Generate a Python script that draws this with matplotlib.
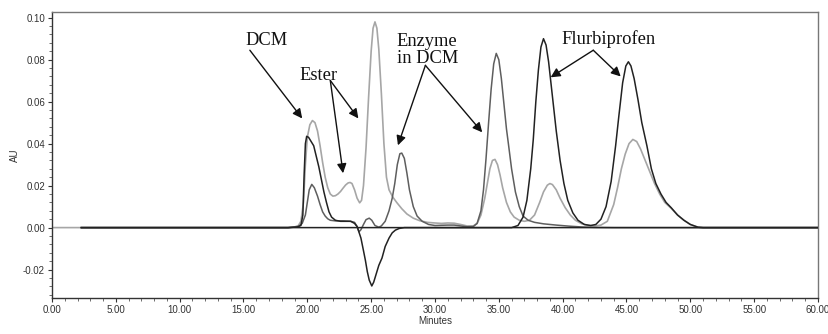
import matplotlib
matplotlib.use("Agg")
import matplotlib.pyplot as plt
from matplotlib.ticker import MultipleLocator, FormatStrFormatter

plt.rcParams['axes.unicode_minus'] = False

# ---- data ----
# Trace A: light grey (reaction mixture)
a_t = [0, 18.5, 19.0, 19.3, 19.5, 19.7, 19.85, 20.0, 20.2, 20.4, 20.6, 20.8, 21.0, 21.2, 21.4,
       21.6, 21.8, 22.0, 22.2, 22.4, 22.6, 22.8, 23.0, 23.2, 23.35, 23.5, 23.7, 23.9, 24.1, 24.25,
       24.4, 24.6, 24.8, 25.0, 25.15, 25.3, 25.45, 25.6, 25.8, 26.0, 26.2, 26.4, 26.7, 27.0, 27.4,
       27.8, 28.3, 28.8, 29.4, 30.0, 30.5, 31.0, 31.5, 32.0, 32.5, 33.0, 33.3, 33.6, 33.9, 34.1,
       34.3, 34.5, 34.7, 34.9, 35.1, 35.3, 35.6, 35.9, 36.2, 36.6, 37.0, 37.4, 37.8, 38.2, 38.5,
       38.8, 39.0, 39.2, 39.5, 39.8, 40.2, 40.6, 41.0, 41.5, 42.0, 42.5, 43.0, 43.5, 44.0, 44.3,
       44.6, 44.9, 45.2, 45.5, 45.8, 46.1, 46.4, 46.8, 47.2, 47.6, 48.0, 48.5, 49.0, 49.5, 50.0,
       50.6, 51.0, 60.0]
a_y = [0, 0, 0.0003, 0.001, 0.003, 0.012, 0.030, 0.043, 0.049, 0.051, 0.050, 0.046, 0.039, 0.031, 0.024,
       0.019, 0.016, 0.015, 0.0152, 0.016, 0.0172, 0.0188, 0.0203, 0.0213, 0.0215, 0.021, 0.018, 0.014, 0.0118, 0.013,
       0.020, 0.038, 0.062, 0.084, 0.095, 0.098, 0.095, 0.085, 0.064, 0.040, 0.024, 0.018, 0.0145, 0.012, 0.009,
       0.0065, 0.0045, 0.0033, 0.0025, 0.0022, 0.0020, 0.0022, 0.0021, 0.0015, 0.0008, 0.0008, 0.002, 0.006, 0.014, 0.021,
       0.028, 0.032, 0.0325, 0.030, 0.025, 0.019, 0.012, 0.0075, 0.005, 0.0035, 0.003, 0.0035, 0.006, 0.012, 0.017,
       0.0202, 0.021, 0.0205, 0.018, 0.014, 0.0095, 0.006, 0.0035, 0.0018, 0.001, 0.0008, 0.0012, 0.003, 0.011, 0.019,
       0.028, 0.035, 0.040, 0.042, 0.041, 0.0375, 0.033, 0.027, 0.021, 0.016, 0.012, 0.0092, 0.006, 0.0035, 0.0015,
       0.0002, 0, 0]

# Trace B: dark (DCM, negative dip)
b_t = [2.3, 18.5, 19.2, 19.5, 19.65, 19.75, 19.85, 19.95, 20.1, 20.3, 20.5, 20.7, 20.9, 21.1, 21.3,
       21.5, 21.7, 21.9, 22.2, 22.6, 23.0, 23.4, 23.7, 23.9, 24.0, 24.2, 24.4, 24.55, 24.7, 24.85,
       25.05, 25.2, 25.4, 25.6, 25.85, 26.1, 26.4, 26.65, 26.9, 27.2, 27.6, 60.0]
b_y = [0, 0, 0.0003, 0.001, 0.006, 0.025, 0.040, 0.0435, 0.043, 0.041, 0.039, 0.034, 0.029, 0.023, 0.017,
       0.012, 0.0075, 0.005, 0.0035, 0.003, 0.003, 0.003, 0.002, 0.0005, -0.0013, -0.005, -0.011, -0.0156, -0.021, -0.025,
       -0.0278, -0.026, -0.022, -0.018, -0.0145, -0.009, -0.005, -0.0025, -0.0012, -0.0004, 0, 0]

# Trace C: medium grey (enzyme in DCM)
c_t = [2.3, 18.5, 19.3, 19.6, 19.85, 20.0, 20.15, 20.35, 20.55, 20.8, 21.0, 21.2, 21.4, 21.6, 21.8,
       22.2, 22.8, 23.4, 23.7, 23.9, 24.05, 24.2, 24.4, 24.6, 24.85, 25.05, 25.3, 25.6, 25.8, 26.1,
       26.4, 26.65, 26.85, 27.05, 27.25, 27.4, 27.6, 27.8, 28.0, 28.3, 28.6, 29.0, 29.5, 30.0, 31.0,
       31.5, 32.0, 32.5, 33.0, 33.3, 33.6, 33.8, 34.0, 34.2, 34.4, 34.6, 34.8, 35.0, 35.2, 35.4,
       35.6, 35.75, 36.0, 36.3, 36.6, 36.9, 37.3, 37.8, 38.5, 39.5, 40.5, 41.5, 42.5, 44.0, 60.0]
c_y = [0, 0, 0.0005, 0.002, 0.006, 0.012, 0.018, 0.0206, 0.019, 0.015, 0.011, 0.0075, 0.0055, 0.0042, 0.0035,
       0.0032, 0.0032, 0.003, 0.0025, 0.0005, -0.002, -0.001, 0.0015, 0.0038, 0.0045, 0.0035, 0.001, 0.0002, 0.0008, 0.003,
       0.008, 0.014, 0.021, 0.030, 0.0352, 0.0355, 0.033, 0.026, 0.018, 0.010, 0.0055, 0.003, 0.0015, 0.001, 0.0012,
       0.0012, 0.0008, 0.0004, 0.0005, 0.002, 0.008, 0.018, 0.033, 0.050, 0.066, 0.078, 0.083, 0.080, 0.071, 0.059,
       0.047, 0.040, 0.028, 0.017, 0.010, 0.0055, 0.0035, 0.0025, 0.0018, 0.0012, 0.0007, 0.0003, 0.0001, 0, 0]

# Trace D: dark (flurbiprofen enantiomers)
d_t = [2.3, 36.0, 36.5, 36.9, 37.2, 37.5, 37.7, 37.9, 38.1, 38.3, 38.5, 38.7, 38.9, 39.1, 39.3,
       39.5, 39.8, 40.1, 40.4, 40.8, 41.2, 41.7, 42.2, 42.6, 43.0, 43.4, 43.8, 44.15, 44.4, 44.7,
       44.95, 45.15, 45.35, 45.6, 45.9, 46.2, 46.6, 46.95, 47.3, 47.7, 48.1, 48.5, 49.0, 49.5, 50.0,
       50.6, 51.0, 60.0]
d_y = [0, 0, 0.001, 0.005, 0.013, 0.028, 0.042, 0.060, 0.075, 0.086, 0.090, 0.087, 0.079, 0.068, 0.057,
       0.046, 0.032, 0.021, 0.013, 0.007, 0.0035, 0.0015, 0.001, 0.0015, 0.004, 0.010, 0.022, 0.039, 0.053, 0.069,
       0.077, 0.079, 0.077, 0.071, 0.061, 0.050, 0.039, 0.028, 0.021, 0.016, 0.012, 0.0095, 0.006, 0.0035, 0.0015,
       0.0002, 0, 0]

x_ticks = [0, 5, 10, 15, 20, 25, 30, 35, 40, 45, 50, 55, 60]
y_ticks = [-0.02, 0.00, 0.02, 0.04, 0.06, 0.08, 0.10]

labels = ["DCM", "Ester", "Enzyme\nin DCM", "Flurbiprofen"]
label_pos = [(16.8, 0.0892), (20.9, 0.0725), (27.0, 0.0845), (43.6, 0.0897)]
arrow_start = [[(15.5, 0.0845)],
               [(21.8, 0.0701), (21.8, 0.0701)],
               [(29.25, 0.0773), (29.25, 0.0773)],
               [(42.4, 0.0845), (42.4, 0.0845)]]
arrow_tip = [[(19.6, 0.0520)],
             [(22.8, 0.0259), (24.0, 0.0520)],
             [(27.1, 0.0392), (33.7, 0.0454)],
             [(39.06, 0.0716), (44.55, 0.0720)]]

# ---- figure ----
fig = plt.figure(figsize=(8.29, 3.34), dpi=100)
ax = fig.add_axes([0.0627, 0.108, 0.924, 0.856])

ax.plot(a_t, a_y, color='#a6a6a6', lw=1.2, zorder=2)
ax.plot(c_t, c_y, color='#5e5e5e', lw=1.1, zorder=3)
ax.plot(d_t, d_y, color='#222222', lw=1.1, zorder=4)
ax.plot(b_t, b_y, color='#222222', lw=1.1, zorder=4)

ax.set_xlim(0, 60)
ax.set_ylim(-0.0335, 0.1027)
ax.set_xticks(x_ticks)
ax.set_yticks(y_ticks)
ax.xaxis.set_minor_locator(MultipleLocator(1))
ax.yaxis.set_minor_locator(MultipleLocator(0.004))
ax.xaxis.set_major_formatter(FormatStrFormatter('%.2f'))
ax.yaxis.set_major_formatter(FormatStrFormatter('%.2f'))
ax.tick_params(which='major', direction='out', length=3, width=0.8, colors='#333333',
               labelsize=7, pad=2)
ax.tick_params(which='minor', direction='out', length=2, width=0.6, colors='#555555')
for lab in ax.get_xticklabels() + ax.get_yticklabels():
    lab.set_family('Liberation Sans')
    lab.set_color('#333333')

for s in ['left', 'bottom']:
    ax.spines[s].set_color('#333333')
    ax.spines[s].set_linewidth(1.0)
for s in ['top', 'right']:
    ax.spines[s].set_color('#777777')
    ax.spines[s].set_linewidth(1.0)

ax.set_xlabel('Minutes', fontsize=7, family='Liberation Sans', color='#333333', labelpad=1)
ax.set_ylabel('AU', fontsize=7, family='Liberation Sans', color='#333333', labelpad=2)

for lab, pos in zip(labels, label_pos):
    ha = 'left' if '\n' in lab else 'center'
    ax.text(pos[0], pos[1], lab, ha=ha, va='center', fontsize=13.3,
            family='Liberation Serif', color='#111111', linespacing=1.0, zorder=6)

for starts, tips in zip(arrow_start, arrow_tip):
    for st, tp in zip(starts, tips):
        ax.annotate('', xy=tp, xytext=st,
                    arrowprops=dict(arrowstyle='-|>', color='#111111', lw=1.0,
                                    mutation_scale=14, shrinkA=0, shrinkB=0),
                    zorder=6)

fig.savefig('out.png', dpi=100)
